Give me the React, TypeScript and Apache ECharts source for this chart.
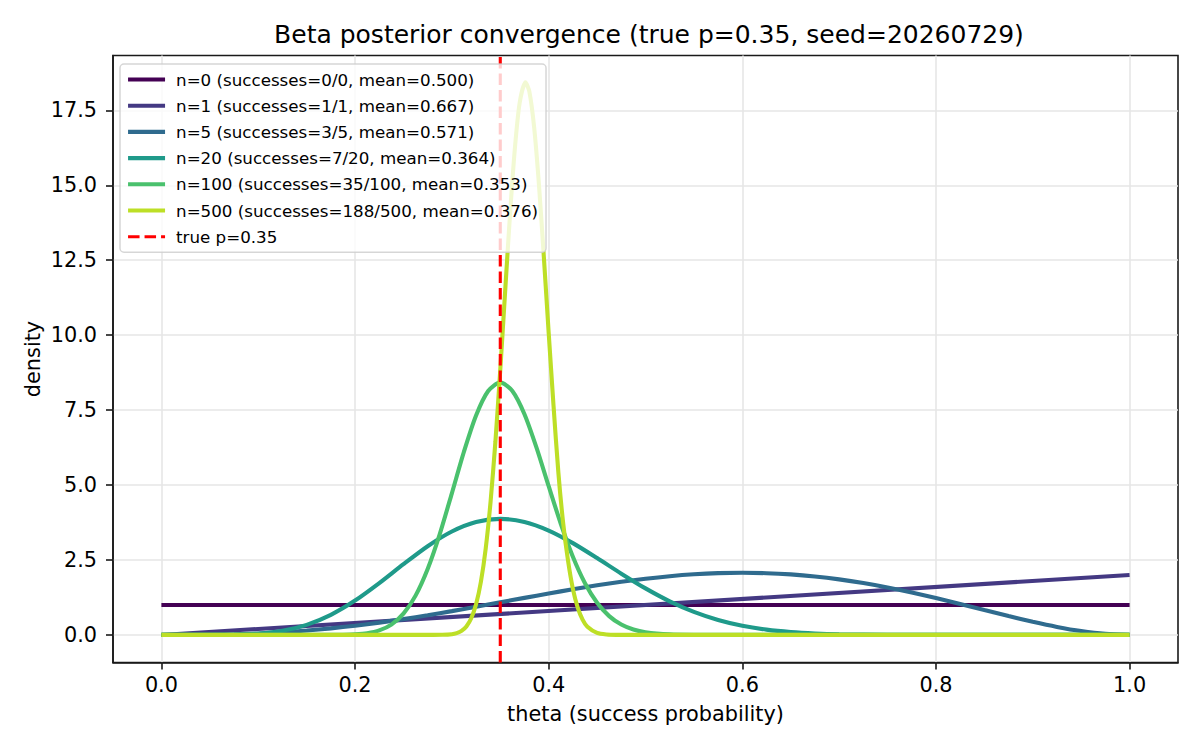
import React, { useEffect, useRef } from "react";
import * as echarts from "echarts";

const FONT = "DejaVu Sans";

const titleText = "Beta posterior convergence (true p=0.35, seed=20260729)";
const xAxisName = "theta (success probability)";
const yAxisName = "density";

const seriesNames = [
  "n=0 (successes=0/0, mean=0.500)",
  "n=1 (successes=1/1, mean=0.667)",
  "n=5 (successes=3/5, mean=0.571)",
  "n=20 (successes=7/20, mean=0.364)",
  "n=100 (successes=35/100, mean=0.353)",
  "n=500 (successes=188/500, mean=0.376)",
];
const trueLabel = "true p=0.35";
const trueP = 0.35;

const seriesColors = ["#440154", "#443983", "#2f6b8e", "#1f9a8a", "#4ac16d", "#bddf26"];

const xTicks = [0, 0.2, 0.4, 0.6, 0.8, 1.0];
const yTicks = [0, 2.5, 5, 7.5, 10, 12.5, 15, 17.5];

// n = 0
const n0X = [0, 1];
const n0Y = [1, 1];

// n = 1
const n1X = [0, 1];
const n1Y = [0, 2];

// n = 5
const n5X = [
  0, 0.025, 0.05, 0.075, 0.1, 0.125, 0.15, 0.175, 0.2, 0.225, 0.25, 0.275, 0.3, 0.325, 0.35,
  0.375, 0.4, 0.425, 0.45, 0.475, 0.5, 0.525, 0.55, 0.575, 0.6, 0.625, 0.65, 0.675, 0.7, 0.725,
  0.75, 0.775, 0.8, 0.825, 0.85, 0.875, 0.9, 0.925, 0.95, 0.975, 1,
];
const n5Y = [
  0, 0.0009, 0.0068, 0.0217, 0.0486, 0.0897, 0.1463, 0.2189, 0.3072, 0.4105, 0.5273, 0.6559,
  0.7938, 0.9384, 1.0869, 1.236, 1.3824, 1.5228, 1.6539, 1.7724, 1.875, 1.9589, 2.0215, 2.0603,
  2.0736, 2.0599, 2.0185, 1.9491, 1.8522, 1.7291, 1.582, 1.4139, 1.2288, 1.0318, 0.8291, 0.6281,
  0.4374, 0.2671, 0.1286, 0.0348, 0,
];

// n = 20
const n20X = [
  0, 0.05, 0.075, 0.1, 0.125, 0.15, 0.175, 0.2, 0.225, 0.25, 0.275, 0.3, 0.325, 0.35, 0.375,
  0.4, 0.425, 0.45, 0.475, 0.5, 0.525, 0.55, 0.575, 0.6, 0.625, 0.65, 0.675, 0.7, 0.75, 0.8,
  0.9, 1,
];
const n20Y = [
  0, 0.0007, 0.0079, 0.0414, 0.1368, 0.3363, 0.6711, 1.1455, 1.7291, 2.3606, 2.9604, 3.4494,
  3.7648, 3.8724, 3.7694, 3.4834, 3.0622, 2.5635, 2.0444, 1.5525, 1.1214, 0.769, 0.4993,
  0.3058, 0.1759, 0.0944, 0.0469, 0.0214, 0.0032, 0.0003, 0, 0,
];

// n = 100
const n100X = [
  0, 0.15, 0.175, 0.1875, 0.2, 0.2125, 0.225, 0.2375, 0.25, 0.2625, 0.275, 0.2875, 0.3, 0.3125,
  0.325, 0.3375, 0.35, 0.3625, 0.375, 0.3875, 0.4, 0.4125, 0.425, 0.4375, 0.45, 0.4625, 0.475,
  0.4875, 0.5, 0.525, 0.55, 0.6, 1,
];
const n100Y = [
  0, 0, 0.0013, 0.0055, 0.0191, 0.0572, 0.1495, 0.3448, 0.709, 1.3116, 2.2, 3.366, 4.7244,
  6.113, 7.319, 8.136, 8.424, 8.138, 7.363, 6.24, 4.962, 3.709, 2.605, 1.722, 1.071, 0.627,
  0.3455, 0.179, 0.0873, 0.0172, 0.0026, 0, 0,
];

// n = 500
const n500X = [
  0, 0.25, 0.28, 0.29, 0.3, 0.305, 0.31, 0.315, 0.32, 0.325, 0.33, 0.335, 0.34, 0.345, 0.35,
  0.355, 0.36, 0.365, 0.37, 0.376, 0.38, 0.385, 0.39, 0.395, 0.4, 0.405, 0.41, 0.415, 0.42,
  0.425, 0.43, 0.435, 0.44, 0.45, 0.46, 0.47, 0.5, 1,
];
const n500Y = [
  0, 0, 0.0004, 0.0036, 0.0253, 0.0602, 0.1349, 0.2823, 0.5545, 1.0228, 1.7738, 2.8953, 4.453,
  6.46, 8.845, 11.442, 13.993, 16.196, 17.746, 18.44, 18.13, 16.927, 15.0, 12.615, 10.079,
  7.652, 5.419, 3.719, 2.4735, 1.536, 0.9077, 0.5105, 0.2733, 0.0676, 0.0138, 0.0023, 0, 0,
];

const xMin = -0.05;
const xMax = 1.05;
const yMin = -0.92;
const yMax = 19.33;

const curveXs = [n0X, n1X, n5X, n20X, n100X, n500X];
const curveYs = [n0Y, n1Y, n5Y, n20Y, n100Y, n500Y];

function zip(xs: number[], ys: number[]) {
  return xs.map((x, i) => [x, ys[i]]);
}

export default function App() {
  const ref = useRef<HTMLDivElement>(null);
  useEffect(() => {
    if (!ref.current) return;
    const chart = echarts.init(ref.current, undefined, { renderer: "svg" });

    const curveSeries = seriesNames.map((name, i) => ({
      name,
      type: "line",
      data: zip(curveXs[i], curveYs[i]),
      symbol: "none",
      showSymbol: false,
      smooth: i >= 2 ? 0.25 : false,
      color: seriesColors[i],
      lineStyle: { color: seriesColors[i], width: 4.1, cap: "butt" },
      itemStyle: { color: seriesColors[i] },
      z: 2,
    }));

    const trueSeries = {
      name: trueLabel,
      type: "line",
      data: [
        [trueP, yMin],
        [trueP, yMax],
      ],
      symbol: "none",
      showSymbol: false,
      color: "#ff0000",
      lineStyle: { color: "#ff0000", width: 3.1, type: [11.5, 5] },
      itemStyle: { color: "#ff0000" },
      z: 3,
    };

    const axisLineStyle = { color: "#1a1a1a", width: 1.6 };
    const splitLineStyle = { color: "#e6e6e6", width: 1.6 };

    const legendData = [
      ...seriesNames.map((name, i) => ({
        name,
        lineStyle: { color: seriesColors[i], width: 4.1 },
      })),
      { name: trueLabel, lineStyle: { color: "#ff0000", width: 3.1, type: [11.5, 5] } },
    ];

    chart.setOption({
      animation: false,
      textStyle: { fontFamily: FONT },
      title: {
        text: titleText,
        left: 644,
        top: 17,
        textAlign: "center",
        textStyle: { fontSize: 25, fontWeight: "normal", color: "#000", fontFamily: FONT },
      },
      grid: {
        left: 113,
        right: 22,
        top: 55.5,
        bottom: 87.5,
        show: true,
        borderColor: "#1a1a1a",
        borderWidth: 1.6,
        backgroundColor: "transparent",
        containLabel: false,
      },
      xAxis: {
        type: "value",
        min: xMin,
        max: xMax,
        name: xAxisName,
        nameLocation: "middle",
        nameGap: 41,
        nameMoveOverlap: false,
        nameTextStyle: { fontSize: 20.8, color: "#000", fontFamily: FONT },
        axisLine: { show: true, onZero: false, lineStyle: axisLineStyle },
        axisTick: { show: true, length: 7, lineStyle: axisLineStyle, customValues: xTicks },
        axisLabel: {
          customValues: xTicks,
          formatter: (v: number) => v.toFixed(1),
          fontSize: 20.8,
          color: "#000",
          margin: 12,
          fontFamily: FONT,
        },
        splitLine: { show: true, lineStyle: splitLineStyle },
      },
      yAxis: {
        type: "value",
        min: yMin,
        max: yMax,
        name: yAxisName,
        nameLocation: "middle",
        nameGap: 70,
        nameMoveOverlap: false,
        nameTextStyle: { fontSize: 20.8, color: "#000", fontFamily: FONT },
        axisLine: { show: true, onZero: false, lineStyle: axisLineStyle },
        axisTick: { show: true, length: 7, lineStyle: axisLineStyle, customValues: yTicks },
        axisLabel: {
          customValues: yTicks,
          formatter: (v: number) => v.toFixed(1),
          fontSize: 20.8,
          color: "#000",
          margin: 16,
          fontFamily: FONT,
        },
        splitLine: { show: true, lineStyle: splitLineStyle },
      },
      legend: {
        orient: "vertical",
        left: 120,
        top: 64,
        padding: [7, 8, 7, 6],
        itemGap: 9.2,
        itemWidth: 37,
        itemHeight: 17,
        backgroundColor: "rgba(255,255,255,0.8)",
        borderColor: "rgba(204,204,204,0.8)",
        borderWidth: 1.5,
        borderRadius: 4,
        itemStyle: {
          color: "rgba(0,0,0,0)",
          borderColor: "rgba(0,0,0,0)",
          borderWidth: 0,
          opacity: 0,
        },
        textStyle: {
          fontSize: 16.7,
          color: "#000",
          fontFamily: FONT,
          padding: [0, 0, 0, 6],
          lineHeight: 17,
        },
        data: legendData,
      },
      series: [...curveSeries, trueSeries],
    });

    return () => {
      chart.dispose();
    };
  }, []);

  return (
    <div
      ref={ref}
      style={{ position: "fixed", left: 0, top: 0, width: 1200, height: 750, background: "#fff" }}
    />
  );
}
